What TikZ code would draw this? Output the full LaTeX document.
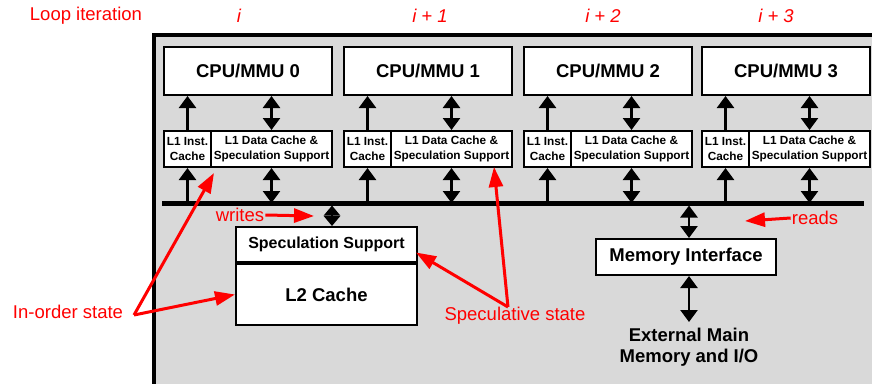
\documentclass[tikz,border=0pt]{standalone}
\usepackage{fontspec}
\setmainfont{Liberation Sans}
\usetikzlibrary{arrows.meta,calc}
\definecolor{panel}{RGB}{217,217,217}
\definecolor{note}{RGB}{255,0,0}
\begin{document}
\begin{tikzpicture}[x=1pt,y=-1pt,
  box/.style={draw=black,line width=2pt,fill=white,inner sep=0pt,align=center},
  big/.style={font=\fontsize{18.5}{21}\selectfont\bfseries},
  mid/.style={font=\fontsize{16}{19}\selectfont\bfseries},
  small/.style={font=\fontsize{11.8}{14.6}\selectfont\bfseries},
  link/.style={line width=2.5pt,-{Triangle[width=17pt,length=12pt]}},
  dlink/.style={line width=2.5pt,{Triangle[width=17pt,length=12pt]}-{Triangle[width=17pt,length=12pt]}},
  note/.style={text=note,inner sep=1pt,font=\fontsize{18.5}{21}\selectfont},
  pointer/.style={draw=note,line width=3pt,-{Triangle[width=14pt,length=20pt]}}]
\useasboundingbox (0,0) rectangle (872,383);
\clip (0,0) rectangle (872,383);

% chip outline
\draw[line width=4.5pt,fill=panel] (154,35) rectangle (900,410);

% iteration labels
\node[note] (loop) at (86,16) {Loop iteration};
\node[note,font=\fontsize{18.5}{21}\selectfont\itshape] (it0) at (239,16) {i};
\node[note,font=\fontsize{18.5}{21}\selectfont\itshape] (it1) at (430,16) {i + 1};
\node[note,font=\fontsize{18.5}{21}\selectfont\itshape] (it2) at (603,16) {i + 2};
\node[note,font=\fontsize{18.5}{21}\selectfont\itshape] (it3) at (776,16) {i + 3};

% shared bus
\coordinate (busL) at (162,203);
\coordinate (busR) at (864,203);
\draw[line width=5pt] (busL) -- (busR);

% processors with their L1 caches
\foreach \k/\cx in {0/248,1/428,2/608,3/786}{
  \node[box,big,minimum width=168pt,minimum height=48pt] (cpu\k) at (\cx,71) {CPU/MMU \k};
  \node[box,small,minimum width=47pt,minimum height=36pt] (li\k) at (\cx-60.5,149) {L1 Inst.\\Cache};
  \node[box,small,minimum width=121pt,minimum height=36pt] (ld\k) at (\cx+23.5,149) {L1 Data Cache \&\\Speculation Support};
  \draw[link] (li\k.north) -- (li\k.north |- cpu\k.south);
  \draw[dlink] (ld\k.north) -- (ld\k.north |- cpu\k.south);
  \draw[link] (li\k.south |- busL) -- (li\k.south);
  \draw[dlink] (ld\k.south |- busL) -- (ld\k.south);
}

% L2 cache with speculation support
\node[box,mid,minimum width=181pt,minimum height=35pt] (l2s) at (326.5,244.5) {Speculation Support};
\node[box,big,minimum width=181pt,minimum height=61pt,anchor=north] (l2c) at (l2s.south) {L2 Cache};
\coordinate (tap) at (332,205.5);
\draw[line width=2.5pt,{Triangle[width=16pt,length=10pt]}-{Triangle[width=16pt,length=10pt]}] (tap) -- (tap |- l2s.north);

% memory interface
\node[box,big,minimum width=180pt,minimum height=36pt] (mem) at (686,257) {Memory Interface};
\coordinate (mtap) at (689,205.5);
\draw[dlink] (mtap) -- (mtap |- mem.north);
\node[big,align=center,inner xsep=0pt,inner ysep=6pt,anchor=north] (ext) at (689,322) {External Main\\Memory and I/O};
\draw[dlink] (mtap |- mem.south) -- (mtap |- ext.north);

% annotations
\node[note] (writes) at (240,215) {writes};
\coordinate (wtip) at (314,216);
\draw[pointer] (writes.east) -- (wtip);
\node[note] (reads) at (815,218) {reads};
\coordinate (rtip) at (745,221);
\draw[pointer] (reads.west) -- (rtip);

\node[note] (inorder) at (68,312) {In-order state};
\coordinate (vin) at (134,315);
\draw[pointer] (vin) -- ($(li0.south east)+(2,5)$);
\draw[pointer] (vin) -- (l2c.west);

\node[note] (spec) at (515,316) {Speculative state};
\coordinate (vsp) at (508,307);
\draw[pointer] (vsp) -- ($(ld1.south east)+(-19,-1)$);
\draw[pointer] (vsp) -- ($(l2s.east)+(-2,8)$);
\end{tikzpicture}
\end{document}
